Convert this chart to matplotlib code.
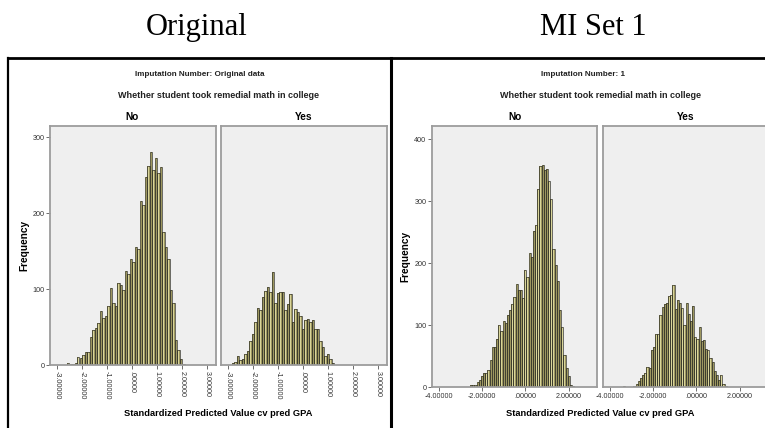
import numpy as np
import matplotlib
matplotlib.use('Agg')
import matplotlib.pyplot as plt
from matplotlib import font_manager
from matplotlib.lines import Line2D

# Histogram counts, bin width 0.1, first bin edge given by *_start
orig_no_start = -2.6
orig_no = [3, 1, 1, 2, 11, 9, 13, 17, 17, 37, 46, 49, 55, 71, 62, 65, 78, 101, 82, 78,
           108, 105, 99, 124, 120, 139, 135, 155, 152, 216, 210, 248, 262, 280, 256,
           273, 253, 260, 175, 155, 139, 99, 82, 33, 20, 8, 1]
orig_yes_start = -2.85
orig_yes = [2, 4, 12, 7, 8, 15, 19, 31, 41, 56, 75, 72, 89, 97, 102, 96, 123, 82, 95,
            96, 96, 72, 80, 94, 56, 74, 70, 65, 47, 59, 60, 56, 59, 47, 47, 31, 24, 12,
            15, 8, 2]
mi_no_start = -2.55
mi_no = [4, 3, 4, 8, 12, 18, 22, 22, 28, 44, 64, 65, 77, 100, 91, 106, 104, 116, 125,
         134, 145, 166, 156, 157, 144, 189, 178, 216, 210, 252, 261, 320, 356, 358, 350,
         352, 332, 304, 222, 196, 171, 125, 96, 52, 31, 17, 4, 1]
mi_yes_start = -3.4
mi_yes = [1, 0, 0, 0, 0, 2, 5, 10, 14, 20, 23, 32, 31, 59, 65, 85, 86, 116, 129, 134,
          135, 146, 149, 164, 126, 140, 135, 128, 100, 136, 118, 107, 130, 80, 78, 96,
          74, 76, 62, 59, 47, 41, 26, 20, 12, 20, 5, 2]
bin_width = 0.1

orig_xticks = [-3, -2, -1, 0, 1, 2, 3]
orig_xticklabels = ['-3.00000', '-2.00000', '-1.00000', '.00000', '1.00000', '2.00000', '3.00000']
orig_yticks = [0, 100, 200, 300]
mi_xticks = [-4, -2, 0, 2]
mi_xticklabels = ['-4.00000', '-2.00000', '.00000', '2.00000']
mi_yticks = [0, 100, 200, 300, 400]

W, H = 765, 428
BAR = '#9d9760'
SHINE = '#d9d59a'
EDGE = '#34342a'
PANEL = '#efefef'
FRAME = '#9c9c9c'

names = {f.name for f in font_manager.fontManager.ttflist}
SANS = 'Liberation Sans Narrow' if 'Liberation Sans Narrow' in names else 'Liberation Sans'
plt.rcParams['font.family'] = SANS


def box(x0, y0, x1, y1):
    # pixel box (top-left origin) -> figure fraction rect
    return [x0 / W, 1 - y1 / H, (x1 - x0) / W, (y1 - y0) / H]


def pt(x, y):
    return x / W, 1 - y / H


def draw_hist(ax, start, counts):
    counts = np.asarray(counts)
    edges = start + bin_width * np.arange(len(counts))
    ax.bar(edges, counts, width=bin_width, align='edge', color=BAR, linewidth=0)
    ax.bar(edges + bin_width * 0.5, counts, width=bin_width * 0.3, color=SHINE, linewidth=0)
    ax.bar(edges, counts, width=bin_width, align='edge', fill=False,
           edgecolor=EDGE, linewidth=0.5)


def style_panel(ax, xlim, ylim, xticks, xticklabels, yticks, show_y, rot):
    ax.set_facecolor(PANEL)
    for s in ax.spines.values():
        s.set_color(FRAME)
        s.set_linewidth(1.3)
    ax.set_xlim(xlim)
    ax.set_ylim(ylim)
    ax.set_xticks(xticks)
    ax.set_xticklabels(xticklabels, rotation=rot, fontsize=5.2, color='#333333',
                       va='top', ha='center')
    ax.tick_params(axis='x', length=3, width=0.6, pad=1.5, color='#555555')
    if show_y:
        ax.set_yticks(yticks)
        ax.tick_params(axis='y', length=3, width=0.6, pad=1, labelsize=5.2,
                       color='#555555', labelcolor='#333333')
    else:
        ax.set_yticks([])


fig = plt.figure(figsize=(W / 100, H / 100), dpi=100)

# Original data
ax1 = fig.add_axes(box(50, 126, 216, 365))
ax2 = fig.add_axes(box(221, 126, 387, 365))
draw_hist(ax1, orig_no_start, orig_no)
draw_hist(ax2, orig_yes_start, orig_yes)
style_panel(ax1, (-3.28, 3.36), (0, 314.5), orig_xticks, orig_xticklabels, orig_yticks, True, -90)
style_panel(ax2, (-3.28, 3.36), (0, 314.5), orig_xticks, orig_xticklabels, orig_yticks, False, -90)

# Imputed set 1
ax3 = fig.add_axes(box(432, 126, 597, 387))
ax4 = fig.add_axes(box(603, 126, 768, 387))
draw_hist(ax3, mi_no_start, mi_no)
draw_hist(ax4, mi_yes_start, mi_yes)
style_panel(ax3, (-4.3, 3.3), (0, 421), mi_xticks, mi_xticklabels, mi_yticks, True, 0)
style_panel(ax4, (-4.3, 3.3), (0, 421), mi_xticks, mi_xticklabels, mi_yticks, False, 0)

# headings above each chart
serif = 'Liberation Serif'
fig.text(*pt(197, 35), 'Original', family=serif, fontsize=22, ha='center', va='baseline')
fig.text(*pt(593, 35), 'MI Set 1', family=serif, fontsize=22, ha='center', va='baseline')

# outer frame lines
fig.add_artist(Line2D([8 / W, 1], [1 - 57.5 / H] * 2, color='black', lw=2))
fig.add_artist(Line2D([8 / W] * 2, [1 - 57.5 / H, 0], color='black', lw=1.6))
fig.add_artist(Line2D([391 / W] * 2, [1 - 57.5 / H, 0], color='black', lw=2.2))

for cx, num, wx, nx, yx, lx, fx, fy in [
        (200, 'Original data', 218, 132, 304, 218, 24, 245),
        (583, '1', 600, 515, 686, 600, 405, 256)]:
    fig.text(*pt(cx, 75), 'Imputation Number: ' + num, fontsize=5.9,
             weight='bold', ha='center', va='center', color='#222222')
    fig.text(*pt(wx, 95), 'Whether student took remedial math in college', fontsize=6.5,
             weight='bold', ha='center', va='center', color='#222222')
    fig.text(*pt(nx, 117), 'No', fontsize=7.3, weight='bold', ha='center', va='center')
    fig.text(*pt(yx, 117), 'Yes', fontsize=7.3, weight='bold', ha='center', va='center')
    fig.text(*pt(lx, 413), 'Standardized Predicted Value cv pred GPA', fontsize=6.7,
             weight='bold', ha='center', va='center')
    fig.text(*pt(fx, fy), 'Frequency', fontsize=7.3, weight='bold', rotation=90,
             ha='center', va='center')

fig.savefig('out.png', dpi=100)
